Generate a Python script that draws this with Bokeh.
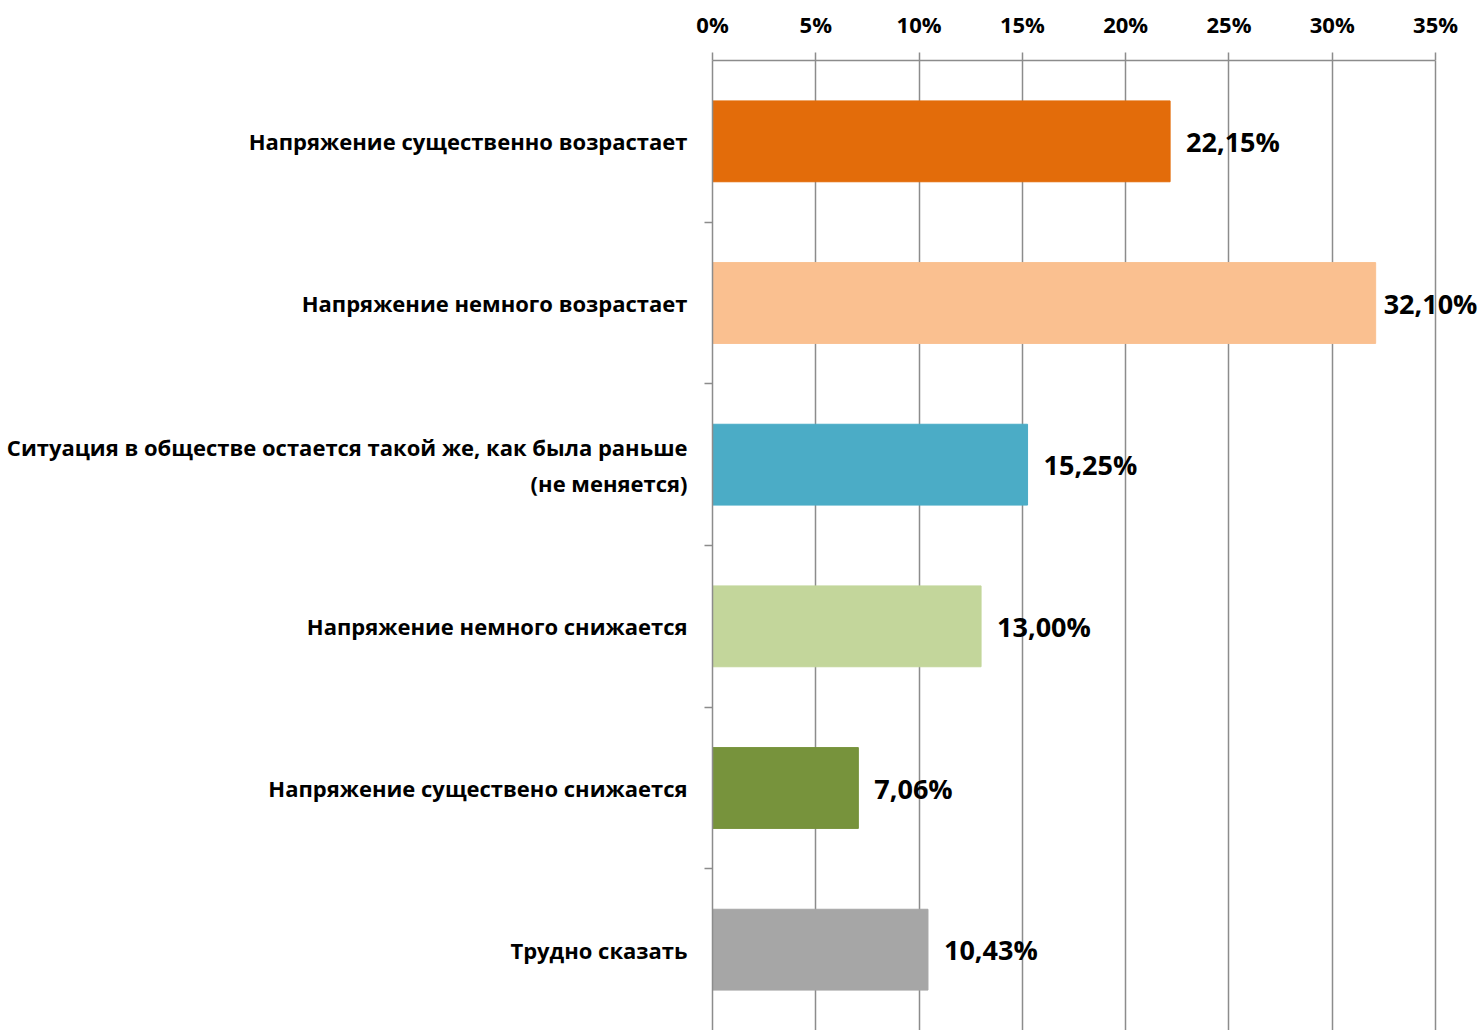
from bokeh.plotting import figure
from bokeh.models import (ColumnDataSource, Range1d, FixedTicker, LabelSet,
                          PrintfTickFormatter)
from bokeh.core.properties import value
from bokeh.embed import file_html
from bokeh.resources import INLINE

categories = [
    "Напряжение существенно возрастает",
    "Напряжение немного возрастает",
    "Ситуация в обществе остается такой же, как была раньше\n(не меняется)",
    "Напряжение немного снижается",
    "Напряжение существено снижается",
    "Трудно сказать",
]
values = [22.15, 32.10, 15.25, 13.00, 7.06, 10.43]
value_labels = ["22,15%", "32,10%", "15,25%", "13,00%", "7,06%", "10,43%"]
colors = ["#E36C0A", "#FAC090", "#4BACC6", "#C3D69B", "#77933C", "#A6A6A6"]
x_ticks = [0, 5, 10, 15, 20, 25, 30, 35]

n = len(categories)
ypos = [n - 0.5 - i for i in range(n)]
# labels that would overflow the chart are pulled closer to their bar
offsets = [16 if v < 30 else 8 for v in values]

src = ColumnDataSource(dict(y=ypos, v=values, lab=value_labels, c=colors,
                            off=offsets))

p = figure(width=1483, height=1030, output_backend="svg", toolbar_location=None,
           x_range=Range1d(0, 37.32), y_range=Range1d(0, n),
           x_axis_location="above",
           min_border_left=712, min_border_right=0, min_border_top=60,
           min_border_bottom=0)
p.outline_line_color = None
p.background_fill_color = "white"
p.border_fill_color = "white"

p.hbar(y="y", left=0, right="v", height=0.5, color="c", source=src)

labels = LabelSet(x="v", y="y", text="lab", source=src, x_offset="off",
                  text_baseline="middle", text_font=value("Open Sans"),
                  text_font_style="bold", text_font_size="27px",
                  text_color="black")
p.add_layout(labels)

grey = "#8C8C8C"
xa = p.xaxis[0]
xa.ticker = FixedTicker(ticks=x_ticks)
xa.bounds = (0, 35)
xa.formatter = PrintfTickFormatter(format="%d%%")
xa.major_tick_in = 0
xa.major_tick_out = 8
xa.minor_tick_out = 0
xa.minor_tick_in = 0
xa.axis_line_color = grey
xa.axis_line_width = 1.5
xa.major_tick_line_color = grey
xa.major_tick_line_width = 1.5
xa.major_label_text_font = "Open Sans"
xa.major_label_text_font_style = "bold"
xa.major_label_text_font_size = "22px"
xa.major_label_text_color = "black"
xa.major_label_standoff = 14

ya = p.yaxis[0]
ya.ticker = FixedTicker(ticks=ypos, minor_ticks=[1, 2, 3, 4, 5])
ya.major_label_overrides = {y: c for y, c in zip(ypos, categories)}
ya.major_tick_in = 0
ya.major_tick_out = 0
ya.minor_tick_in = 0
ya.minor_tick_out = 8
ya.minor_tick_line_color = grey
ya.minor_tick_line_width = 1.5
ya.axis_line_color = grey
ya.axis_line_width = 1.5
ya.major_label_text_font = "Open Sans"
ya.major_label_text_font_style = "bold"
ya.major_label_text_font_size = "22px"
ya.major_label_text_color = "black"
ya.major_label_standoff = 17

p.xgrid.ticker = FixedTicker(ticks=x_ticks)
p.xgrid.bounds = (0, 35)
p.xgrid.grid_line_color = grey
p.xgrid.grid_line_width = 1.5
p.ygrid.grid_line_color = None

open("out.html", "w").write(file_html(p, INLINE))
